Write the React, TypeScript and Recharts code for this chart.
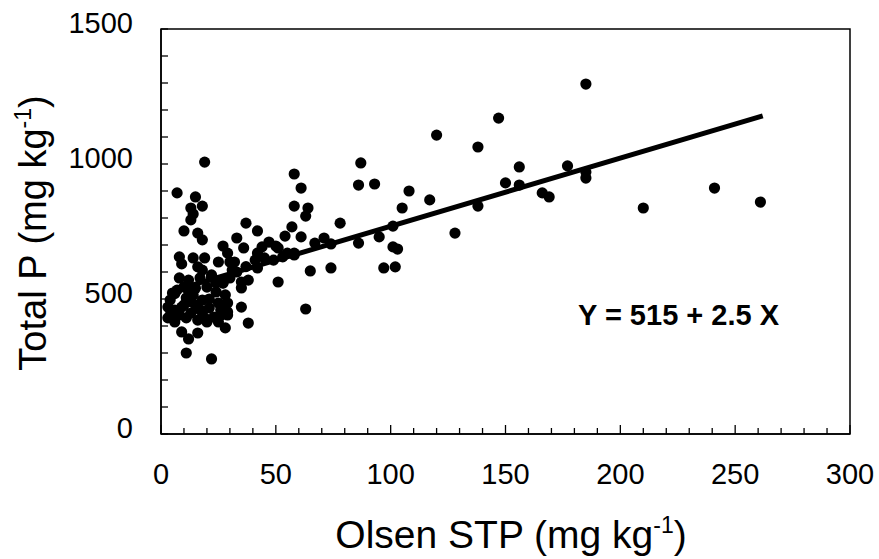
import React from "react";
import {
  ReferenceArea,
  Scatter,
  ScatterChart,
  XAxis,
  YAxis
} from "recharts";

// Olsen STP (x) vs Total P (y)
const olsenStp = [
  185, 147, 120, 138, 156, 177, 185, 185, 150, 156, 166, 169, 138, 128, 210, 241, 261,
  87, 58, 61, 86, 93, 108, 117, 105, 58, 64, 63, 78, 57, 54, 61, 67, 71, 74, 86, 95,
  101, 101, 103, 50, 53, 58, 49, 65, 74, 97, 102, 51, 63,
  19, 7, 15, 18, 13, 14, 13, 10, 16, 18, 37, 42, 33, 36, 27, 29, 25, 8, 9, 14, 16,
  41, 44, 47, 35, 38, 28, 11, 22, 9, 12, 16, 5, 3,
  18, 30, 22, 12, 17, 7, 11, 20, 27, 30, 14, 24, 28, 6, 10, 18, 25, 29, 8, 13, 18,
  23, 6, 16, 20, 25, 51, 55, 58, 42, 45, 42, 31, 35, 38, 35, 29, 29,
  3, 4, 11, 15, 21, 26, 8, 24, 32, 19,
  5, 9, 13, 17, 21, 26, 6, 11, 19, 27, 15, 22, 33, 37, 10, 4
];
const totalP = [
  1296, 1170, 1107, 1063, 989, 993, 970, 948, 930, 922, 893, 878, 844, 744, 837, 911, 859,
  1004, 963, 911, 922, 926, 900, 867, 837, 844, 837, 807, 781, 767, 733, 730, 707, 726, 704, 707, 730,
  770, 693, 685, 696, 656, 663, 644, 604, 615, 615, 619, 563, 463,
  1007, 893, 878, 844, 837, 815, 793, 752, 744, 719, 781, 752, 726, 689, 696, 670, 637, 656, 630, 652, 619,
  644, 693, 711, 470, 411, 393, 300, 278, 378, 352, 374, 522, 470,
  607, 637, 589, 570, 578, 533, 541, 544, 559, 578, 515, 526, 515, 459, 478, 496, 485, 452, 441, 448, 452,
  433, 415, 422, 415, 415, 689, 670, 670, 670, 652, 615, 607, 563, 570, 541, 485, 441,
  430, 496, 504, 478, 467, 459, 578, 559, 637, 652,
  450, 470, 490, 460, 500, 440, 520, 430, 430, 560, 540, 580, 600, 620, 545, 440
];

// fitted line Y = 515 + 2.5 X, end points as drawn
const fitX = [5, 262];
const fitY = [530, 1178];

const xTicks = [
  0, 10, 20, 30, 40, 50, 60, 70, 80, 90, 100, 110, 120, 130, 140, 150, 160, 170, 180,
  190, 200, 210, 220, 230, 240, 250, 260, 270, 280, 290, 300
];
const xLabels = [0, 50, 100, 150, 200, 250, 300];
const yTicks = [0, 100, 200, 300, 400, 500, 600, 700, 800, 900, 1000, 1100, 1200, 1300, 1400, 1500];
const yLabels = [0, 500, 1000, 1500];

const points = olsenStp.map((x, i) => ({ x, y: totalP[i] }));
const fitLine = fitX.map((x, i) => ({ x, y: fitY[i] }));

const FONT = "Arial, 'Liberation Sans', Helvetica, sans-serif";

const XTick = (props: any) => {
  const { x, y, payload } = props;
  const major = xLabels.includes(payload.value);
  return (
    <g>
      <line x1={x} y1={y} x2={x} y2={y - (major ? 9 : 6)} stroke="#000" strokeWidth={1.3} />
      {major && (
        <text x={x} y={y + 40} textAnchor="middle" dominantBaseline="central"
          fontSize={29} fontFamily={FONT} fill="#000">
          {payload.value}
        </text>
      )}
    </g>
  );
};

const YTick = (props: any) => {
  const { x, y, payload } = props;
  const major = yLabels.includes(payload.value);
  return (
    <g>
      <line x1={x} y1={y} x2={x + 7} y2={y} stroke="#000" strokeWidth={1.3} />
      {major && (
        <text x={x - 28} y={y - 6} textAnchor="end" dominantBaseline="central"
          fontSize={29} fontFamily={FONT} fill="#000">
          {payload.value}
        </text>
      )}
    </g>
  );
};

const Dot = (props: any) => <circle cx={props.cx} cy={props.cy} r={5.6} fill="#000" />;
const NoDot = () => <g />;

export default function App() {
  return (
    <div style={{ position: "absolute", left: 0, top: 0, width: 879, height: 559, background: "#fff" }}>
      <ScatterChart width={879} height={559} margin={{ top: 29, right: 29, bottom: 0, left: 0 }}>
        <XAxis
          type="number"
          dataKey="x"
          domain={[0, 300]}
          ticks={xTicks}
          interval={0}
          height={125}
          tickSize={0}
          tickMargin={0}
          tick={<XTick />}
          axisLine={{ stroke: "#000", strokeWidth: 1.5 }}
          allowDataOverflow
        />
        <YAxis
          type="number"
          dataKey="y"
          domain={[0, 1500]}
          ticks={yTicks}
          interval={0}
          width={161}
          tickSize={0}
          tickMargin={0}
          tick={<YTick />}
          axisLine={{ stroke: "#000", strokeWidth: 1.5 }}
          allowDataOverflow
        />
        <ReferenceArea x1={0} x2={300} y1={0} y2={1500} fill="none" stroke="#000" strokeWidth={1.5} ifOverflow="visible" />
        <Scatter data={points} shape={<Dot />} isAnimationActive={false} />
        <Scatter
          data={fitLine}
          shape={<NoDot />}
          line={{ stroke: "#000", strokeWidth: 5 }}
          isAnimationActive={false}
        />
      </ScatterChart>
      <svg width={879} height={559} style={{ position: "absolute", left: 0, top: 0, pointerEvents: "none" }}>
        <text x={511} y={548} textAnchor="middle" fontSize={39} fontFamily={FONT} fill="#000">
          Olsen STP (mg kg<tspan dy={-15} fontSize={23}>-1</tspan><tspan dy={15}>)</tspan>
        </text>
        <text
          x={0}
          y={0}
          transform="translate(46,233) rotate(-90)"
          textAnchor="middle"
          fontSize={38}
          fontFamily={FONT}
          fill="#000"
        >
          Total P (mg kg<tspan dy={-15} fontSize={23}>-1</tspan><tspan dy={15}>)</tspan>
        </text>
        <text x={578} y={325} fontSize={29} fontWeight="bold" fontFamily={FONT} fill="#000">
          Y = 515 + 2.5 X
        </text>
      </svg>
    </div>
  );
}
